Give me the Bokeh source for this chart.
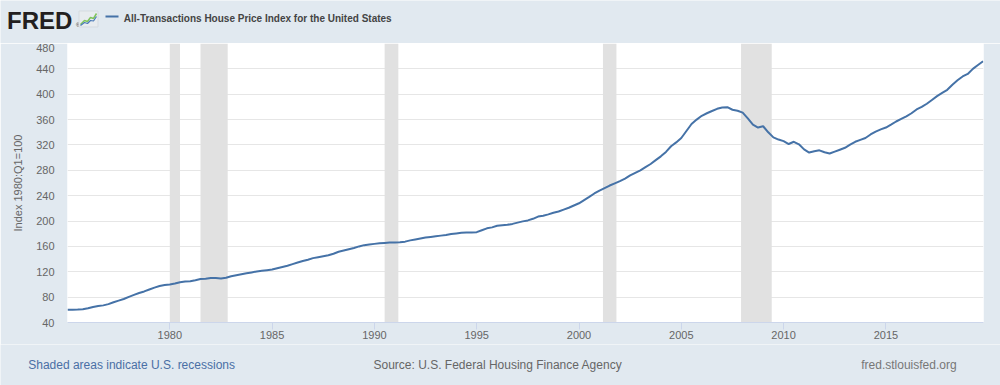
from bokeh.plotting import figure
from bokeh.layouts import column, row
from bokeh.models import Range1d, FixedTicker, BoxAnnotation, ColumnDataSource
from bokeh.core.properties import value
from bokeh.embed import file_html
from bokeh.resources import INLINE

# ---------------- data (quarterly) ----------------
first_year = 1975
hpi_1975_1984 = [
    [60.0, 60.2, 60.5, 61.0],      # 1975
    [62.5, 64.5, 66.0, 67.0],      # 1976
    [69.0, 72.0, 74.5, 77.0],      # 1977
    [80.5, 83.5, 86.5, 89.0],      # 1978
    [92.0, 95.0, 97.5, 99.0],      # 1979
    [100.0, 101.5, 103.5, 104.5],  # 1980
    [105.0, 106.5, 108.5, 109.0],  # 1981
    [110.0, 110.0, 109.5, 110.5],  # 1982
    [113.0, 114.5, 116.0, 117.5],  # 1983
    [119.0, 120.5, 121.5, 122.5],  # 1984
]
hpi_1985_1994 = [
    [123.5, 125.5, 127.5, 129.5],  # 1985
    [132.0, 134.5, 137.0, 139.0],  # 1986
    [141.5, 143.0, 144.5, 146.0],  # 1987
    [148.5, 151.5, 153.5, 155.5],  # 1988
    [157.5, 160.0, 162.0, 163.0],  # 1989
    [164.0, 165.0, 165.5, 166.0],  # 1990
    [166.0, 166.5, 167.5, 169.5],  # 1991
    [171.0, 172.5, 174.0, 175.0],  # 1992
    [176.0, 177.0, 178.0, 179.5],  # 1993
    [180.5, 181.5, 182.0, 182.0],  # 1994
]
hpi_1995_2004 = [
    [182.5, 185.5, 188.5, 190.0],  # 1995
    [192.5, 193.5, 194.0, 195.5],  # 1996
    [197.5, 199.5, 201.0, 203.5],  # 1997
    [207.0, 208.5, 210.5, 213.0],  # 1998
    [215.0, 218.0, 221.0, 224.5],  # 1999
    [228.0, 233.0, 238.0, 243.5],  # 2000
    [248.0, 252.0, 256.0, 259.5],  # 2001
    [263.0, 267.0, 272.0, 276.0],  # 2002
    [280.0, 285.0, 290.0, 296.0],  # 2003
    [302.0, 309.0, 318.0, 324.0],  # 2004
]
hpi_2005_2019 = [
    [331.0, 342.0, 353.0, 360.0],  # 2005
    [366.0, 370.0, 373.5, 377.0],  # 2006
    [379.0, 379.5, 375.5, 374.0],  # 2007
    [371.0, 362.0, 352.0, 347.5],  # 2008
    [349.5, 340.0, 332.0, 328.5],  # 2009
    [326.0, 321.5, 325.0, 321.0],  # 2010
    [313.0, 308.0, 310.0, 311.5],  # 2011
    [308.5, 306.5, 309.5, 312.5],  # 2012
    [315.5, 320.5, 325.0, 328.0],  # 2013
    [331.0, 336.5, 341.0, 344.5],  # 2014
    [347.5, 352.0, 357.0, 361.0],  # 2015
    [365.0, 370.0, 376.0, 380.0],  # 2016
    [385.0, 391.0, 397.0, 402.0],  # 2017
    [407.0, 415.0, 422.0, 428.0],  # 2018
    [432.0, 440.0, 446.0, 452.0],  # 2019
]
recession_starts = [1980.0, 1981.5, 1990.5, 2001.17, 2007.92]
recession_ends = [1980.5, 1982.83, 1991.17, 2001.83, 2009.42]
x_ticks = [1980, 1985, 1990, 1995, 2000, 2005, 2010, 2015]
y_ticks = [40, 80, 120, 160, 200, 240, 280, 320, 360, 400, 440, 480]
series_title = "All-Transactions House Price Index for the United States"
y_label = "Index 1980:Q1=100"
note_text = "Shaded areas indicate U.S. recessions"
source_text = "Source: U.S. Federal Housing Finance Agency"
site_text = "fred.stlouisfed.org"

values = [v for block in (hpi_1975_1984, hpi_1985_1994, hpi_1995_2004, hpi_2005_2019)
          for yr in block for v in yr]
dates = [first_year + i * 0.25 for i in range(len(values))]
src = ColumnDataSource(dict(x=dates, y=values))

BG = "#e1e9f0"
FONT = "Liberation Sans"
W = 1000
HEAD_H = 43
MAIN_H = 301
FOOT_H = 41


def strip(h):
    """A pixel-mapped figure used for header/footer text."""
    f = figure(width=W, height=h, x_range=Range1d(0, W), y_range=Range1d(h, 0),
               output_backend="svg", toolbar_location=None,
               min_border=0, min_border_left=0, min_border_right=0,
               min_border_top=0, min_border_bottom=0,
               background_fill_color=BG, border_fill_color=BG,
               outline_line_color=None)
    f.axis.visible = False
    f.grid.visible = False
    return f


def put(f, txt, x, y, size, color, style="normal", baseline="alphabetic"):
    f.text(x=[x], y=[y], text=[txt], text_font=value(FONT), text_font_size=size,
           text_color=color, text_font_style=style, text_baseline=baseline)


# ---------------- header ----------------
head = strip(HEAD_H)
put(head, "FRED", 6.6, 19.5, "24px", "#231f20", "bold")
put(head, "\u00ae", 75.5, 24.7, "6px", "#231f20")
# small chart icon
head.quad(left=[78.5], right=[97.5], top=[10.5], bottom=[26.5], fill_color="#e8ecef",
          line_color="#d5dbe0", line_width=1)
head.line(x=[80, 84, 87, 90, 93, 96], y=[24, 20, 21, 17, 18, 13], line_color="#7fc45a", line_width=1.5)
head.line(x=[80, 84, 87, 90, 93, 96], y=[25, 22, 23, 20, 20.5, 16], line_color="#4a7ab8", line_width=1.2)
head.line(x=[105, 118], y=[16, 16], line_color="#4572a7", line_width=2)
put(head, series_title, 123.3, 17.7, "10px", "#444444", "bold")

# ---------------- main chart ----------------
p = figure(width=W, height=MAIN_H,
           x_range=Range1d(dates[0], dates[-1] + 0.02), y_range=Range1d(40, 480),
           output_backend="svg", toolbar_location=None,
           min_border_left=67, min_border_right=17, min_border_top=0, min_border_bottom=22,
           background_fill_color="white", border_fill_color=BG, outline_line_color=None)

p.xgrid.visible = False
p.ygrid.ticker = FixedTicker(ticks=y_ticks)
p.ygrid.grid_line_color = "#e6e6e6"
p.ygrid.grid_line_width = 1

p.yaxis.ticker = FixedTicker(ticks=y_ticks)
p.yaxis.axis_line_color = None
p.yaxis.major_tick_line_color = None
p.yaxis.minor_tick_line_color = None
p.yaxis.major_tick_out = 0
p.yaxis.major_tick_in = 0
p.yaxis.major_label_standoff = 13
p.yaxis.major_label_text_font = FONT
p.yaxis.major_label_text_font_size = "11px"
p.yaxis.major_label_text_color = "#666666"
p.yaxis.axis_label = y_label
p.yaxis.axis_label_text_font = FONT
p.yaxis.axis_label_text_font_size = "11px"
p.yaxis.axis_label_text_font_style = "normal"
p.yaxis.axis_label_text_color = "#666666"
p.yaxis.axis_label_standoff = 9

p.xaxis.ticker = FixedTicker(ticks=x_ticks)
p.xaxis.major_label_overrides = {t: str(t) for t in x_ticks}
p.xaxis.axis_line_color = "#ccd6eb"
p.xaxis.major_tick_line_color = "#ccd6eb"
p.xaxis.minor_tick_line_color = None
p.xaxis.major_tick_out = 7
p.xaxis.major_tick_in = 0
p.xaxis.major_label_standoff = 1
p.xaxis.major_label_text_font = FONT
p.xaxis.major_label_text_font_size = "11px"
p.xaxis.major_label_text_color = "#666666"

for s, e in zip(recession_starts, recession_ends):
    p.add_layout(BoxAnnotation(left=s, right=e, fill_color="#e1e1e1", fill_alpha=1.0,
                               line_color=None, level="underlay"))

p.line("x", "y", source=src, line_color="#4572a7", line_width=2)

# ---------------- footer ----------------
foot = strip(FOOT_H)
put(foot, note_text, 27.7, 20.7, "12px", "#4a6fa5")
put(foot, source_text, 373.0, 20.7, "12px", "#666666")
put(foot, site_text, 860.7, 20.7, "12px", "#777777")

# wrap each figure in its own row so the column does not align the plot frames
layout = column(row(head, spacing=0), row(p, spacing=0), row(foot, spacing=0), spacing=0)

open("out.html", "w").write(file_html(layout, INLINE))
